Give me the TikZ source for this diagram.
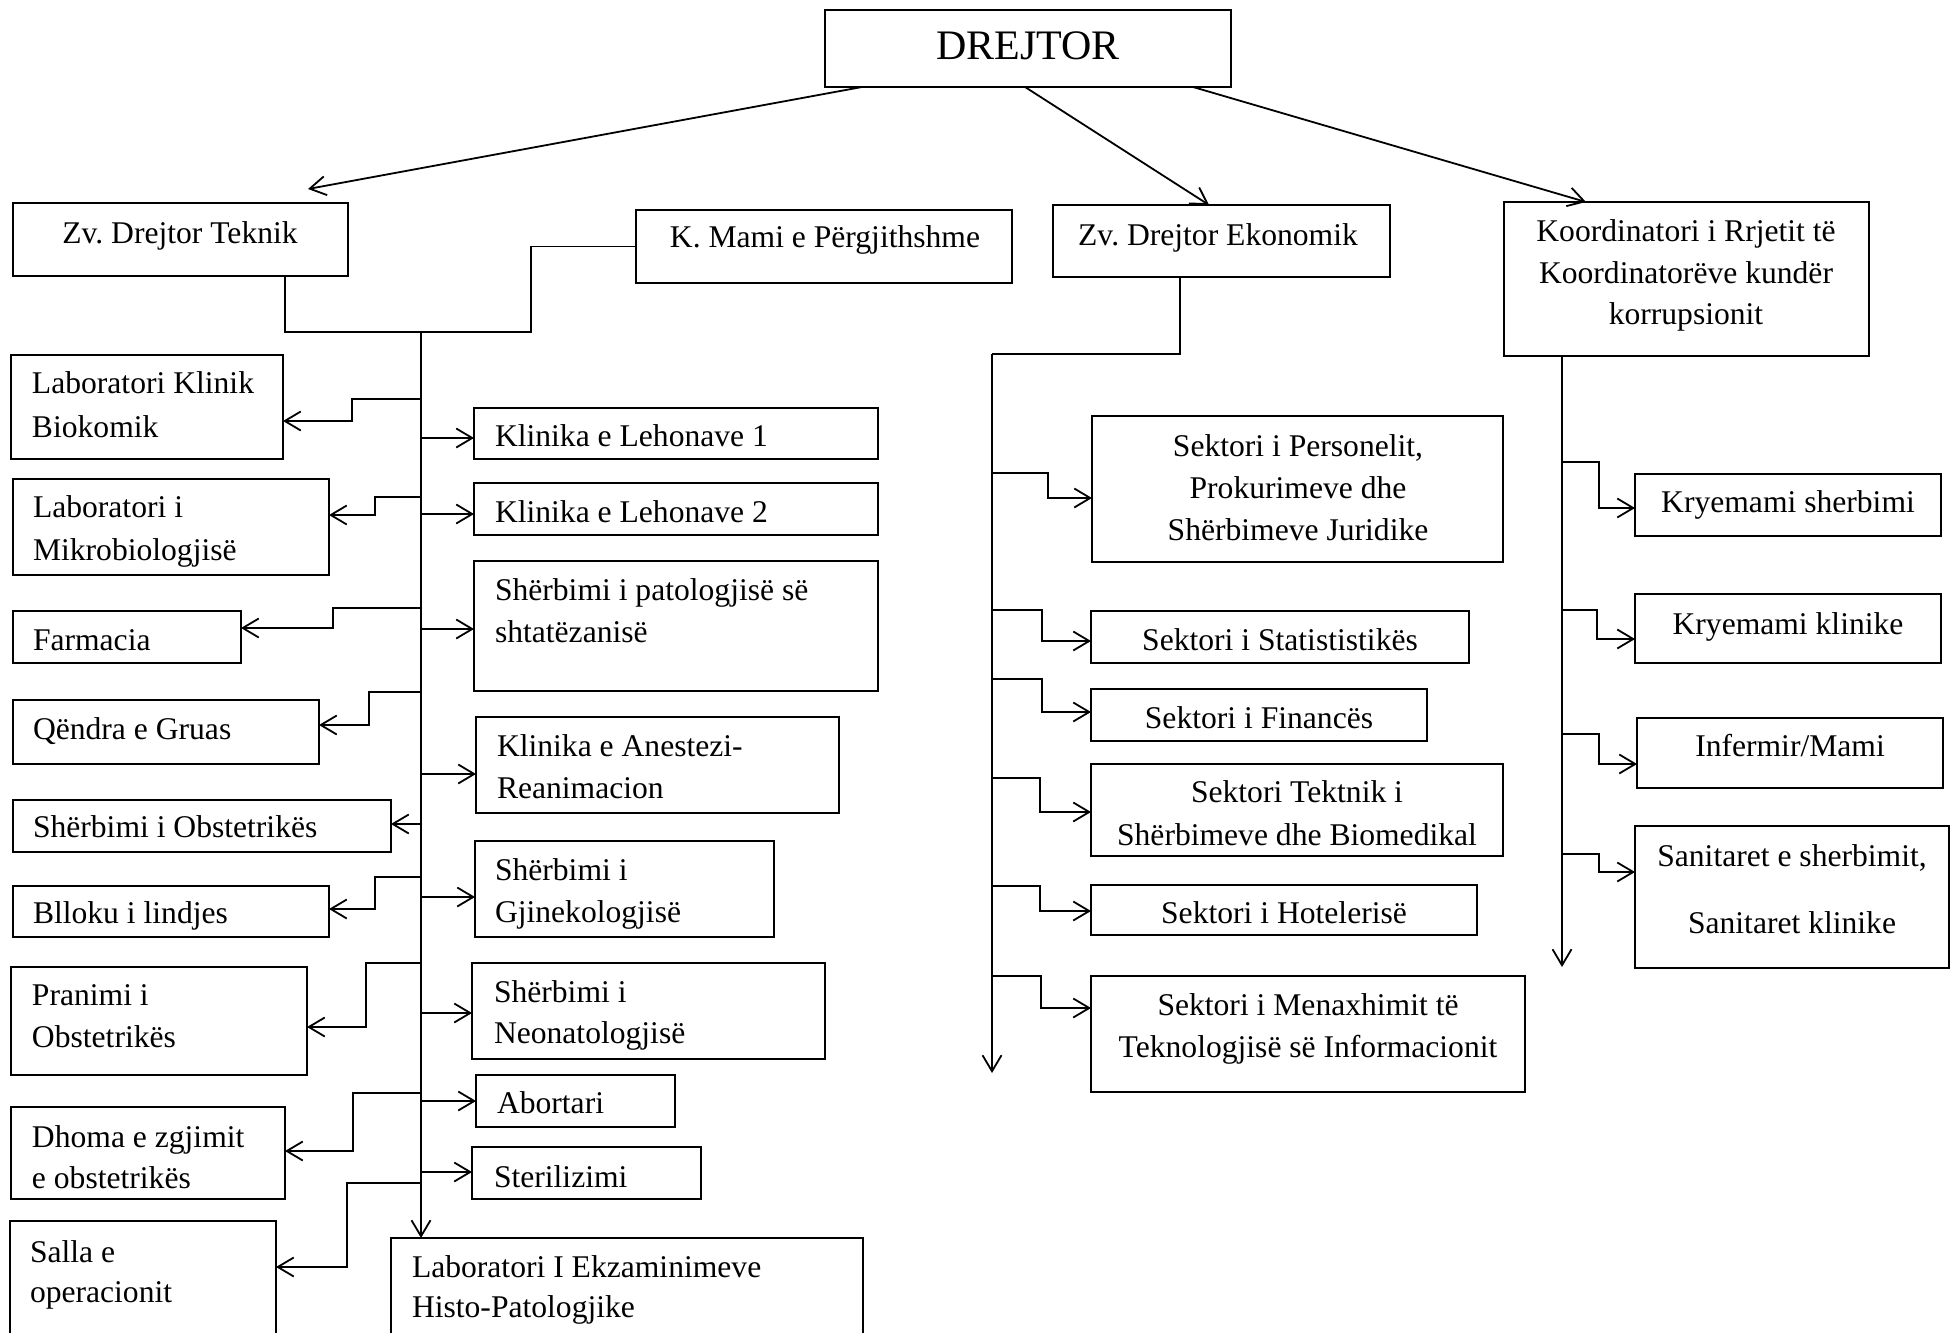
\documentclass[tikz,border=0pt]{standalone}
\usepackage{fontspec}
\setmainfont{Liberation Serif}
\usetikzlibrary{arrows.meta,calc}
\frenchspacing
\tikzset{
  bx/.style={draw, line width=1pt, inner sep=0pt, outer sep=0pt, anchor=north west},
  tx/.style={inner sep=0pt, outer sep=0pt, font=\fontsize{15.8}{21}\selectfont},
  ln/.style={line width=0.9pt},
  arr/.style={line width=0.9pt, -{Straight Barb[length=8pt,width=9.5pt]}},
}
\newcommand\BoxAt[5]{\node[bx, minimum width={(#4-#2)*0.5pt}, minimum height={(#5-#3)*0.5pt}] (#1) at (#2,#3) {};}
\newcommand\TxtL[4]{\node[tx, anchor=base west] (#1) at (#2,#3) {#4};}
\newcommand\TxtC[4]{\node[tx, anchor=base] (#1) at (#2,#3) {#4};}
\newcommand\ElbL[4]{\draw[arr] (T1 |- 0,#2) -- (#3,#2) -- (#3,#4) -- (#1.east |- 0,#4);}
\newcommand\ArrR[2]{\draw[arr] (T1 |- 0,#2) -- (#1.west |- 0,#2);}
\newcommand\ElbR[5]{\draw[arr] (#2 |- 0,#3) -- (#4,#3) -- (#4,#5) -- (#1.west |- 0,#5);}
\begin{document}
\begin{tikzpicture}[x=0.5pt, y=-0.5pt]
\useasboundingbox (0,0) rectangle (1952,1332);
\fill[white] (0,0) rectangle (1952,1332);
\clip (0,0) rectangle (1952,1332);

% ---------- boxes ----------
\BoxAt{dr}{825}{10}{1231}{87}
\BoxAt{zt}{13}{203}{348}{276}
\BoxAt{km}{636}{210}{1012}{283}
\BoxAt{ze}{1053}{205}{1390}{277}
\BoxAt{ko}{1504}{202}{1869}{356}

\BoxAt{lk}{11}{355}{283}{459}
\BoxAt{kla}{474}{408}{878}{459}
\BoxAt{lm}{13}{479}{329}{575}
\BoxAt{klb}{474}{483}{878}{535}
\BoxAt{pa}{474}{561}{878}{691}
\BoxAt{fa}{13}{611}{241}{663}
\BoxAt{qg}{13}{700}{319}{764}
\BoxAt{an}{476}{717}{839}{813}
\BoxAt{so}{13}{800}{391}{852}
\BoxAt{gj}{475}{841}{774}{937}
\BoxAt{bl}{13}{886}{329}{937}
\BoxAt{pr}{11}{967}{307}{1075}
\BoxAt{ne}{472}{963}{825}{1059}
\BoxAt{ab}{476}{1075}{675}{1127}
\BoxAt{dh}{11}{1107}{285}{1199}
\BoxAt{st}{472}{1147}{701}{1199}
\BoxAt{sa}{10}{1221}{276}{1360}
\BoxAt{le}{391}{1238}{863}{1360}

\BoxAt{sp}{1092}{416}{1503}{562}
\BoxAt{ss}{1091}{611}{1469}{663}
\BoxAt{sf}{1091}{689}{1427}{741}
\BoxAt{stk}{1091}{764}{1503}{856}
\BoxAt{sh}{1091}{885}{1477}{935}
\BoxAt{sm}{1091}{976}{1525}{1092}

\BoxAt{kra}{1635}{474}{1941}{536}
\BoxAt{krb}{1635}{594}{1941}{663}
\BoxAt{im}{1637}{718}{1943}{788}
\BoxAt{sn}{1635}{826}{1949}{968}

% ---------- texts ----------
\node[tx, font=\fontsize{21}{25}\selectfont, anchor=base] (tdr) at (1028,60) {DREJTOR};
\TxtC{tzt}{180}{243}{Zv. Drejtor Teknik}
\TxtC{tkm}{825}{248}{K. Mami e Përgjithshme}
\TxtC{tze}{1218}{245}{Zv. Drejtor Ekonomik}
\TxtC{tkoa}{1686}{242}{Koordinatori i Rrjetit të}
\TxtC{tkob}{1686}{283}{Koordinatorëve kundër}
\TxtC{tkoc}{1686}{324}{korrupsionit}

\TxtL{tlka}{32}{393}{Laboratori Klinik}
\TxtL{tlkb}{32}{437}{Biokomik}
\TxtL{tkla}{495}{446}{Klinika e Lehonave 1}
\TxtL{tlma}{33}{517}{Laboratori i}
\TxtL{tlmb}{33}{560}{Mikrobiologjisë}
\TxtL{tklb}{495}{522}{Klinika e Lehonave 2}
\TxtL{tpaa}{495}{600}{Shërbimi i patologjisë së}
\TxtL{tpab}{495}{642}{shtatëzanisë}
\TxtL{tfa}{33}{650}{Farmacia}
\TxtL{tqg}{33}{739}{Qëndra e Gruas}
\TxtL{tana}{497}{756}{Klinika e Anestezi-}
\TxtL{tanb}{497}{798}{Reanimacion}
\TxtL{tso}{33}{837}{Shërbimi i Obstetrikës}
\TxtL{tgja}{495}{880}{Shërbimi i}
\TxtL{tgjb}{495}{922}{Gjinekologjisë}
\TxtL{tbl}{33}{923}{Blloku i lindjes}
\TxtL{tpra}{32}{1005}{Pranimi i}
\TxtL{tprb}{32}{1047}{Obstetrikës}
\TxtL{tnea}{494}{1002}{Shërbimi i}
\TxtL{tneb}{494}{1043}{Neonatologjisë}
\TxtL{tab}{497}{1113}{Abortari}
\TxtL{tdha}{32}{1147}{Dhoma e zgjimit}
\TxtL{tdhb}{32}{1188}{e obstetrikës}
\TxtL{tst}{494}{1187}{Sterilizimi}
\TxtL{tsaa}{30}{1262}{Salla e}
\TxtL{tsab}{30}{1302}{operacionit}
\TxtL{tlea}{412}{1277}{Laboratori I Ekzaminimeve}
\TxtL{tleb}{412}{1317}{Histo-Patologjike}

\TxtC{tspa}{1298}{456}{Sektori i Personelit,}
\TxtC{tspb}{1298}{498}{Prokurimeve dhe}
\TxtC{tspc}{1298}{540}{Shërbimeve Juridike}
\TxtC{tss}{1280}{650}{Sektori i Statististikës}
\TxtC{tsf}{1259}{728}{Sektori i Financës}
\TxtC{tstka}{1297}{802}{Sektori Tektnik i}
\TxtC{tstkb}{1297}{845}{Shërbimeve dhe Biomedikal}
\TxtC{tsh}{1284}{923}{Sektori i Hotelerisë}
\TxtC{tsma}{1308}{1015}{Sektori i Menaxhimit të}
\TxtC{tsmb}{1308}{1057}{Teknologjisë së Informacionit}

\TxtC{tkra}{1788}{512}{Kryemami sherbimi}
\TxtC{tkrb}{1788}{634}{Kryemami klinike}
\TxtC{tim}{1790}{756}{Infermir/Mami}
\TxtC{tsna}{1792}{866}{Sanitaret e sherbimit,}
\TxtC{tsnb}{1792}{933}{Sanitaret klinike}

% ---------- top arrows ----------
\coordinate (a1) at (308,189);
\draw[arr] (dr.south -| 862,0) -- (a1);
\draw[arr] (dr.south -| 1025,0) -- (ze.north -| 1209,0);
\draw[arr] (dr.south -| 1193,0) -- (ko.north -| 1586,0);

% ---------- Teknik trunk ----------
\coordinate (T1) at (421,332);
\draw[ln] (zt.south -| 285,0) -- (285,332) -- (T1);
\draw[ln] (km.west) -- (km.west -| 531,0) -- (531,332) -- (T1);
\draw[arr] (T1) -- (le.north -| T1);

\ElbL{lk}{399}{352}{421}
\ElbL{lm}{497}{375}{515}
\ElbL{fa}{608}{333}{628}
\ElbL{qg}{692}{369}{725}
\draw[arr] (T1 |- 0,824) -- (so.east |- 0,824);
\ElbL{bl}{877}{375}{909}
\ElbL{pr}{963}{366}{1027}
\ElbL{dh}{1093}{353}{1151}
\ElbL{sa}{1183}{347}{1267}

\ArrR{kla}{438}
\ArrR{klb}{514}
\ArrR{pa}{629}
\ArrR{an}{774}
\ArrR{gj}{897}
\ArrR{ne}{1013}
\ArrR{ab}{1101}
\ArrR{st}{1172}

% ---------- Ekonomik trunk ----------
\coordinate (T2) at (992,354);
\coordinate (E2) at (992,1073);
\draw[ln] (ze.south -| 1180,0) -- (1180,354) -- (T2);
\draw[arr] (T2) -- (E2);
\ElbR{sp}{T2}{473}{1048}{498}
\ElbR{ss}{T2}{610}{1042}{641}
\ElbR{sf}{T2}{679}{1042}{712}
\ElbR{stk}{T2}{778}{1040}{812}
\ElbR{sh}{T2}{886}{1040}{911}
\ElbR{sm}{T2}{976}{1041}{1008}

% ---------- Koordinator trunk ----------
\coordinate (T3) at (ko.south -| 1562,0);
\coordinate (E3) at (1562,967);
\draw[arr] (T3) -- (E3);
\ElbR{kra}{T3}{462}{1599}{508}
\ElbR{krb}{T3}{610}{1597}{639}
\ElbR{im}{T3}{734}{1599}{764}
\ElbR{sn}{T3}{854}{1599}{872}
\end{tikzpicture}
\end{document}
